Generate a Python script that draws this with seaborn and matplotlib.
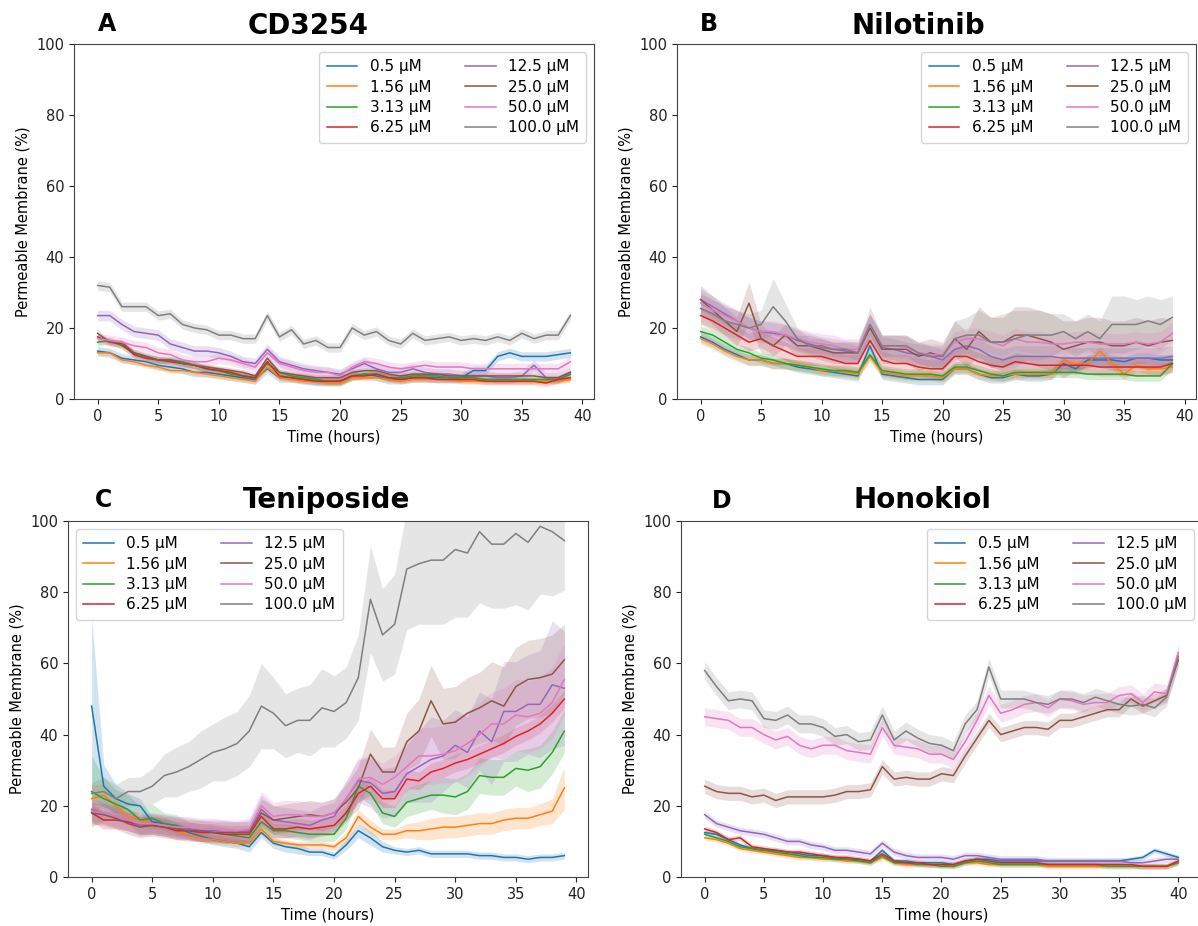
import numpy as np
import matplotlib
matplotlib.use("Agg")
import matplotlib.pyplot as plt
import pandas as pd
import seaborn as sns

conc_labels = ['0.5 µM', '1.56 µM', '3.13 µM', '6.25 µM',
               '12.5 µM', '25.0 µM', '50.0 µM', '100.0 µM']
hours_abc = list(range(40))
hours_d = list(range(41))

# A: CD3254
a_05 = [13.5, 13, 11.5, 11, 10.5, 9.5, 9, 8.5, 7.5, 7.5,
        7, 6.5, 6, 5.5, 8.5, 6, 6, 5.5, 5, 5,
        5, 6.5, 7, 6.5, 5.5, 5.5, 6, 6, 6, 6,
        6, 8, 8, 12, 13, 12, 12, 12, 12.5, 13]
a_156 = [13, 13, 11, 10.5, 9.5, 9, 8, 8, 7.5, 7,
         6.5, 6, 5.5, 5, 9, 6, 5.5, 5, 5, 4.5,
         4.5, 6, 6, 6, 5.5, 5, 5.5, 5.5, 5.5, 5.5,
         5, 5, 5, 5, 5, 5, 5, 5, 5, 5.5]
a_313 = [16, 16.5, 15, 13, 12, 11, 11, 10.5, 9.5, 8.5,
         8, 7, 6.5, 6, 10, 7.5, 6.5, 6, 5.5, 5,
         5, 6.5, 7, 7, 6, 6, 6.5, 6.5, 6.5, 6,
         6, 6, 5.5, 5.5, 5.5, 5.5, 5.5, 5.5, 5.5, 7]
a_625 = [17.5, 16, 15.5, 12.5, 11.5, 11, 10.5, 10, 9.5, 8.5,
         8, 7.5, 6.5, 6, 10.5, 6.5, 6, 5.5, 5, 5,
         5, 6.5, 6.5, 7, 6, 5.5, 6, 6, 5.5, 5.5,
         5.5, 5.5, 5, 5, 5, 5, 5, 4.5, 5.5, 6]
a_125 = [23.5, 23.5, 21, 19, 18.5, 18, 15.5, 14.5, 13.5, 13.5,
         13, 12, 10.5, 10, 14, 10.5, 9.5, 8.5, 8, 7.5,
         7, 8.5, 10, 8.5, 7.5, 7.5, 8.5, 7.5, 7, 7,
         6.5, 6.5, 6.5, 6, 6, 6.5, 9.5, 6, 6, 7.5]
a_25 = [18.5, 16, 16, 13, 12, 11, 11, 10, 9.5, 9,
        8.5, 8, 7.5, 6.5, 11.5, 7.5, 7, 6.5, 6, 6,
        6, 7.5, 8, 8, 7, 6.5, 7, 7, 7, 6.5,
        6.5, 6.5, 6.5, 6.5, 6.5, 6.5, 6.5, 6, 6, 7.5]
a_50 = [17, 16.5, 16, 15, 14.5, 13, 12.5, 11, 10.5, 10.5,
        11.5, 11, 10, 9, 13, 10, 9, 8, 7.5, 7.5,
        6.5, 9, 10.5, 10, 9, 8.5, 9, 9.5, 9, 9,
        9, 8.5, 8.5, 8.5, 8.5, 8.5, 8.5, 8.5, 8.5, 10.5]
a_100 = [32, 31.5, 26, 26, 26, 23.5, 24, 21, 20, 19.5,
         18, 18, 17, 17, 23.5, 17.5, 19.5, 15.5, 16.5, 14.5,
         14.5, 20, 18, 19, 16.5, 15.5, 18.5, 16.5, 17, 17.5,
         16.5, 17, 16.5, 17.5, 16.5, 18.5, 17, 18, 18, 23.5]
a_bands = [1.3, 0.8, 1.0, 1.0, 1.5, 0.8, 1.5, 1.3]

# B: Nilotinib
b_05 = [17.5, 16, 14, 12.5, 11, 11, 10, 10, 9, 8.5,
        8, 7.5, 7, 6.5, 15, 7, 6.5, 6, 5.5, 5.5,
        5.5, 8.5, 8.5, 7, 6, 6, 7, 6.5, 6.5, 7,
        10, 8.5, 11, 11, 11, 10.5, 11.5, 11.5, 11, 11]
b_156 = [17, 15.5, 13.5, 12, 11, 11, 10, 10, 9.5, 9,
         8, 8, 7.5, 7, 12, 7.5, 7, 6.5, 6.5, 6.5,
         6, 8.5, 8.5, 7, 6.5, 6.5, 7, 7, 7, 7,
         11, 10, 10, 13.5, 10, 7, 9.5, 8.5, 8.5, 9]
b_313 = [19, 18, 16, 14, 13, 11.5, 11, 10, 9.5, 9,
         8.5, 8, 8, 7.5, 12.5, 8, 7.5, 7, 7, 7,
         6.5, 9, 9, 8, 7, 6.5, 7.5, 7.5, 7.5, 7.5,
         7.5, 7.5, 7, 7, 7, 7, 6.5, 6.5, 6.5, 10]
b_625 = [23.5, 22, 20, 18, 16, 17, 15, 13.5, 12, 12,
         12, 11, 10, 10, 16.5, 11, 10, 10, 9, 8.5,
         8.5, 12, 12, 10.5, 9.5, 9, 10.5, 10, 9.5, 9.5,
         9.5, 9.5, 9.5, 9, 9, 9, 9, 9, 9, 10]
b_125 = [28, 26, 24, 22, 20, 19, 18.5, 18, 16.5, 15.5,
         14.5, 14, 13.5, 13, 21, 14.5, 14, 13, 12.5, 12,
         11, 14, 15, 14, 12, 11, 12, 12, 12, 12,
         11.5, 11.5, 11.5, 11.5, 11.5, 11.5, 11.5, 11.5, 11.5, 12]
b_25 = [28, 25, 22, 19, 27, 17, 15, 18, 15, 15,
        14, 13, 13, 13, 20, 14, 14, 14, 12, 13,
        12, 17, 14, 19, 16, 16, 18, 18, 17, 16,
        14, 15, 16, 16, 15, 15, 16, 15, 16, 16.5]
b_50 = [27, 25, 23.5, 22, 20, 19, 19, 18, 17, 16,
        15.5, 15, 14, 14, 21, 15, 15, 14.5, 13, 12.5,
        12.5, 16, 17, 17, 16, 15, 17, 16, 16, 15.5,
        15.5, 16, 16, 15.5, 15.5, 15.5, 16, 15.5, 16, 18.5]
b_100 = [25.5, 24, 22, 21, 20, 21, 26, 22, 17, 15,
         15, 14, 14, 13, 21, 15, 15, 15, 13, 12,
         12, 17, 18, 18, 16, 16, 17, 18, 18, 18,
         19, 17, 19, 17, 21, 21, 21, 22, 21, 23]
b_band_25 = [4, 4, 4, 4, 6, 4, 3, 3, 3, 3,
             3, 3, 3, 3, 4, 4, 4, 4, 4, 4,
             4, 5, 5, 7, 7, 7, 8, 8, 8, 8,
             8, 7, 7, 7, 7, 7, 7, 7, 7, 6]
b_band_100 = [4, 4, 4, 4, 4, 4, 8, 5, 3, 2,
              2, 2, 2, 2, 5, 3, 3, 3, 3, 3,
              3, 5, 5, 7, 7, 8, 8, 7, 7, 6,
              5, 5, 5, 5, 8, 8, 7, 7, 7, 6]
b_bands = [1.5, 1.5, 1.5, 2.5, 3, b_band_25, 3, b_band_100]

# C: Teniposide
c_05 = [48, 25.5, 22, 20.5, 20, 15.5, 15, 14, 12.5, 11.5,
        10.5, 10, 9.5, 8.5, 12.5, 9.5, 8.5, 8, 7, 7,
        6, 9, 13, 11, 8.5, 7.5, 7, 7.5, 6.5, 6.5,
        6.5, 6.5, 6, 6, 5.5, 5.5, 5, 5.5, 5.5, 6]
c_156 = [22, 23, 20, 17, 16, 15, 14.5, 13, 12, 11,
         10.5, 10, 9.5, 9.5, 13.5, 10, 9.5, 9, 9, 9,
         8.5, 11, 17, 14, 12, 12, 13, 13, 13.5, 14,
         14, 14.5, 15, 15, 16, 16.5, 16.5, 17.5, 18.5, 25]
c_313 = [24, 22, 20.5, 19, 16, 16.5, 15, 14.5, 13.5, 13,
         12.5, 12, 11.5, 11, 15.5, 13, 13, 12.5, 12, 12,
         12, 16.5, 25.5, 23.5, 18, 17, 21, 22, 23, 23,
         22.5, 24, 28.5, 28, 28, 30.5, 30, 31, 35, 41]
c_625 = [18, 16, 16, 15.5, 14.5, 14.5, 14, 13, 13, 12.5,
         12.5, 12, 12, 12, 17, 13.5, 13.5, 14, 13.5, 14,
         14.5, 18, 23.5, 25.5, 22, 22, 27.5, 27, 29.5, 30.5,
         32, 33, 34.5, 36, 37.5, 39.5, 41, 43, 46, 50]
c_125 = [19, 18, 17, 16, 14.5, 15, 14.5, 14, 13.5, 13,
         13, 13, 12.5, 13, 19, 16, 15.5, 15, 14.5, 16,
         17, 22, 27, 26.5, 23.5, 24, 29, 31, 33, 34,
         37, 35, 41, 38, 46.5, 46.5, 48.5, 48.5, 54, 53]
c_25 = [18, 17.5, 16.5, 15, 14, 14.5, 14, 13.5, 13, 13,
        12.5, 12.5, 12.5, 12.5, 18, 16, 16.5, 17, 17.5, 17,
        18, 21, 25, 34.5, 29.5, 29.5, 38, 41, 49.5, 43,
        43.5, 46, 47.5, 49.5, 48, 53.5, 55.5, 56, 57, 61]
c_50 = [18.5, 18, 17, 16, 15, 15, 14.5, 14, 14, 13.5,
        13.5, 13, 13, 13.5, 20, 17, 17.5, 17.5, 17, 17,
        18, 22, 27.5, 28, 26, 28, 31, 34, 34, 34.5,
        35.5, 37.5, 40, 43, 43, 45.5, 45, 46, 49, 55.5]
c_100 = [23.5, 24, 22, 24, 24, 25.5, 28.5, 29.5, 31, 33,
         35, 36, 37.5, 41, 48, 46, 42.5, 44, 44, 47.5,
         46.5, 49, 56, 78, 68, 71, 86.5, 88, 89, 89,
         92, 91, 97, 93.5, 93.5, 96.5, 94, 98.5, 97, 94.5]
c_band_05 = [25, 6, 4, 3, 2, 1.5, 1.5, 1.5, 1.5, 1.5,
             1.5, 1.5, 1.5, 1.5, 1.5, 1.5, 1.5, 1.5, 1, 1,
             1, 1.5, 2, 2, 1.5, 1, 1, 1, 1, 1,
             1, 1, 1, 1, 1, 1, 1, 1, 1, 1]
c_band_156 = [4, 3, 2, 2, 2, 1.5, 1.5, 1.5, 1.5, 1.5,
              1, 1, 1, 1, 1.5, 1, 1, 1, 1, 1,
              1, 1.5, 2, 2, 1.5, 1.5, 2, 2.5, 3, 3,
              3, 3, 3, 3, 3, 3, 3, 3, 3.5, 6]
c_band_313 = [10, 6, 4, 4, 4, 4, 3, 3, 2, 2,
              2, 2, 2, 2, 3, 2, 2, 2, 2, 2,
              2, 3, 3, 3, 3, 3, 4, 4, 4, 5,
              5, 5, 5, 5, 5, 5, 6, 6, 6, 6]
c_band_125 = [3, 3, 3, 3, 3, 3, 3, 3, 3, 3,
              3, 3, 3, 3, 4, 4, 4, 4, 4, 4,
              4, 5, 6, 7, 7, 7, 8, 10, 12, 10,
              10, 10, 11, 12, 14, 14, 14, 15, 18, 16]
c_band_25 = [3, 3, 3, 3, 3, 3, 3, 3, 3, 3,
             3, 3, 3, 3, 4, 4, 4, 4, 4, 4,
             4, 5, 6, 7, 7, 7, 8, 9, 10, 10,
             10, 10, 10, 11, 11, 11, 11, 11, 11, 10]
c_band_50 = [4, 3, 3, 3, 3, 3, 3, 3, 3, 3,
             3, 3, 3, 3, 4, 4, 4, 4, 4, 4,
             4, 5, 6, 6, 6, 6, 7, 8, 8, 8,
             9, 9, 9, 9, 10, 10, 10, 10, 10, 10]
c_band_100 = [3, 4, 4, 4, 4, 5, 6, 7, 7, 8,
              8, 9, 9, 10, 12, 10, 9, 9, 10, 11,
              10, 10, 12, 15, 13, 14, 17, 17, 18, 18,
              19, 18, 20, 18, 18, 20, 19, 19, 18, 14]
c_bands = [c_band_05, c_band_156, c_band_313, 2.5,
           c_band_125, c_band_25, c_band_50, c_band_100]

# D: Honokiol
d_05 = [12.5, 12, 10.5, 9, 8, 7.5, 7.5, 7, 6.5, 6,
        6, 5.5, 5, 5, 4.5, 7.5, 4.5, 4.5, 4, 4,
        4, 3.5, 4.5, 5, 5, 4.5, 4.5, 4.5, 4.5, 4.5,
        4.5, 4.5, 4.5, 4.5, 4.5, 4.5, 5, 5.5, 7.5, 6.5,
        5.5]
d_156 = [11, 10.5, 9.5, 8, 7.5, 7, 6.5, 6, 5.5, 5.5,
         5, 5, 4.5, 4.5, 4, 5.5, 4, 3.5, 3.5, 3.5,
         3.5, 3, 4, 4, 3.5, 3.5, 3.5, 3.5, 3.5, 3,
         3, 3, 3, 3, 3, 3, 3, 3, 3, 3,
         4]
d_313 = [12, 11, 10, 8.5, 8, 7.5, 7, 6.5, 6, 5.5,
         5.5, 5, 5, 4.5, 4, 6, 4, 4, 3.5, 3.5,
         3, 3, 4, 4.5, 4, 3.5, 3.5, 3.5, 3.5, 3.5,
         3.5, 3.5, 3.5, 3.5, 3, 3, 3, 3, 3, 3,
         4]
d_625 = [13.5, 12.5, 10.5, 11, 8.5, 8, 7.5, 7, 7, 6.5,
         6, 5.5, 5.5, 5, 4.5, 6.5, 4.5, 4, 4, 3.5,
         3.5, 3.5, 4.5, 5, 4.5, 4, 4, 4, 4, 3.5,
         3.5, 3.5, 3.5, 3.5, 3.5, 3.5, 3.5, 3, 3, 3,
         4.5]
d_125 = [17.5, 15, 14, 13, 12.5, 12, 11, 10, 10, 9,
         8.5, 7.5, 7.5, 7, 6.5, 9.5, 7, 6, 5.5, 5.5,
         5.5, 5, 6, 6, 5.5, 5, 5, 5, 5, 4.5,
         4.5, 4.5, 4.5, 4.5, 4.5, 4.5, 4, 4, 4.5, 5,
         5]
d_25 = [25.5, 24, 23.5, 23.5, 22.5, 23, 21.5, 22.5, 22.5, 22.5,
        22.5, 23, 24, 24, 24.5, 31, 27.5, 28, 27.5, 27.5,
        29, 28.5, 34, 39, 44, 40, 41, 42, 42, 41.5,
        44, 44, 45, 46, 47, 47, 50, 48, 49.5, 51,
        61]
d_50 = [45, 44.5, 44, 42, 42, 40, 38.5, 39.5, 37, 36,
        37, 37, 35.5, 35, 34.5, 42, 37, 36.5, 36, 34.5,
        34.5, 33, 38, 44, 51, 46, 47, 48.5, 49, 47.5,
        50, 49.5, 48.5, 49, 49, 51, 51.5, 49, 52, 51.5,
        63]
d_100 = [58, 53.5, 49.5, 50, 49.5, 44.5, 44, 45.5, 43, 43,
         42, 39.5, 40, 38, 38.5, 45.5, 38.5, 41, 39, 37.5,
         37, 35.5, 43, 47, 59, 50, 50, 50, 49, 48.5,
         50, 50, 49, 50.5, 49.5, 48.5, 48, 48.5, 47.5, 50.5,
         62]
d_bands = [0.7, 0.7, 0.7, 0.8, 1.0, 2.0, 2.5, 2.5]

panels = [
    ("A", "CD3254", hours_abc, [a_05, a_156, a_313, a_625, a_125, a_25, a_50, a_100], a_bands, "upper right"),
    ("B", "Nilotinib", hours_abc, [b_05, b_156, b_313, b_625, b_125, b_25, b_50, b_100], b_bands, "upper right"),
    ("C", "Teniposide", hours_abc, [c_05, c_156, c_313, c_625, c_125, c_25, c_50, c_100], c_bands, "upper left"),
    ("D", "Honokiol", hours_d, [d_05, d_156, d_313, d_625, d_125, d_25, d_50, d_100], d_bands, "upper right"),
]

# axes boxes in pixels (left, top, right, bottom) and title/letter positions
W, H = 1198, 926
boxes = [(74, 44, 594, 399), (677, 44, 1196, 399),
         (68, 521, 588, 877), (681, 521, 1202, 877)]
letter_xy = [(107, 24), (709, 24), (103, 500), (722, 501)]
title_xy = [(308, 26), (918, 26), (327, 500), (922, 500)]

colors = sns.color_palette("tab10", 8)
fig = plt.figure(figsize=(W / 100, H / 100), dpi=100)

for i, (letter, name, hours, series, bands, loc) in enumerate(panels):
    l, t, r, b = boxes[i]
    ax = fig.add_axes([l / W, 1 - b / H, (r - l) / W, (b - t) / H])
    rows = []
    for lab, vals in zip(conc_labels, series):
        rows.append(pd.DataFrame({"hours": hours, "value": vals, "conc": lab}))
    df = pd.concat(rows, ignore_index=True)
    sns.lineplot(data=df, x="hours", y="value", hue="conc", hue_order=conc_labels,
                 palette=colors, errorbar=None, linewidth=1.1, ax=ax)
    for c, vals, bw in zip(colors, series, bands):
        v = np.array(vals, dtype=float)
        hw = np.broadcast_to(np.array(bw, dtype=float), v.shape)
        ax.fill_between(hours, v - hw, v + hw, color=c, alpha=0.2, linewidth=0, zorder=1)
    ax.set_ylim(0, 100)
    ax.set_yticks([0, 20, 40, 60, 80, 100])
    ax.set_xticks([0, 5, 10, 15, 20, 25, 30, 35, 40])
    ax.tick_params(labelsize=10.5, colors="#222222")
    ax.set_xlabel("Time (hours)", fontsize=10.5)
    ax.set_ylabel("Permeable Membrane (%)", fontsize=10.5)
    for sp in ax.spines.values():
        sp.set_color("#444444")
    sns.move_legend(ax, loc, ncol=2, title=None, fontsize=11, columnspacing=2.2,
                    labelspacing=0.35, borderpad=0.5)
    fig.text(letter_xy[i][0] / W, 1 - letter_xy[i][1] / H, letter, fontsize=17,
             fontweight="bold", ha="center", va="center")
    fig.text(title_xy[i][0] / W, 1 - title_xy[i][1] / H, name, fontsize=20,
             fontweight="bold", ha="center", va="center")

fig.savefig("out.png", dpi=100)
